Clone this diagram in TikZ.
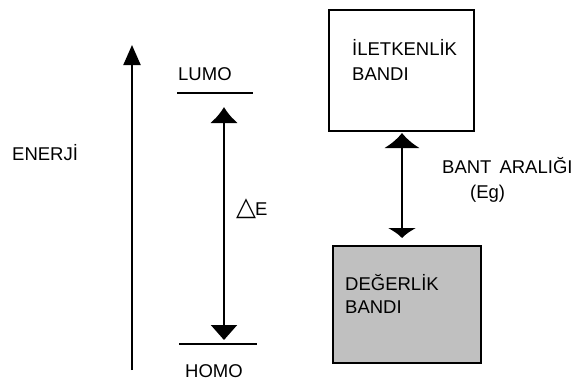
\documentclass[tikz,border=0pt]{standalone}
\usepackage{fontspec}
\setmainfont{Liberation Sans}
\newfontfamily\symfont{DejaVu Sans}
\usetikzlibrary{arrows.meta}
\begin{document}
\begin{tikzpicture}[x=1pt,y=-1pt,
  lbl/.style={anchor=base west,inner sep=0pt,font=\fontsize{18.5}{22}\selectfont},
  band/.style={draw=black,line width=1.5pt,anchor=north west,inner sep=0pt},
  arr/.style={line width=2pt}]
\useasboundingbox (0,0) rectangle (584,380);
% energy axis
\coordinate (ebot) at (132,370);
\coordinate (etop) at (132,45);
\draw[arr,-{Triangle[width=17pt,length=20pt]}] (ebot) -- (etop);
\node[lbl] (enerji) at (12,160) {ENERJİ};
% LUMO / HOMO levels
\coordinate (l1) at (177,93); \coordinate (l2) at (253,93);
\coordinate (h1) at (179,344); \coordinate (h2) at (257,344);
\draw[line width=1.2pt] (l1) -- (l2);
\draw[line width=1.2pt] (h1) -- (h2);
\node[lbl] (lumo) at (178,80) {LUMO};
\node[lbl] (homo) at (185,377) {HOMO};
\coordinate (de1) at (224,107);
\coordinate (de2) at (224,340);
\draw[arr,{Latex[width=28pt,length=16pt]}-{Triangle[width=26pt,length=15pt]}] (de1) -- (de2);
\node[lbl] (de) at (236,215) {{\symfont\fontsize{26}{26}\selectfont △}\hspace{-1pt}E};
% bands
\node[band,minimum width=145pt,minimum height=121pt] (cb) at (328,9) {};
\node[band,fill={rgb,255:red,192;green,192;blue,192},minimum width=148pt,minimum height=117pt] (vb) at (332,245) {};
\node[lbl] (cbt1) at (352,55) {İLETKENLİK};
\node[lbl] (cbt2) at (352,80) {BANDI};
\node[lbl] (vbt1) at (345,290) {DEĞERLİK};
\node[lbl] (vbt2) at (345,313) {BANDI};
\coordinate (g1) at (402,133);
\coordinate (g2) at (402,238);
\draw[arr,{Latex[width=36pt,length=15pt]}-{Latex[width=30pt,length=10pt]}] (g1) -- (g2);
\node[lbl] (gap) at (442,173) {BANT\hspace{8pt}ARALIĞI};
\node[lbl] (eg) at (470,198) {(Eg)};
\end{tikzpicture}
\end{document}
